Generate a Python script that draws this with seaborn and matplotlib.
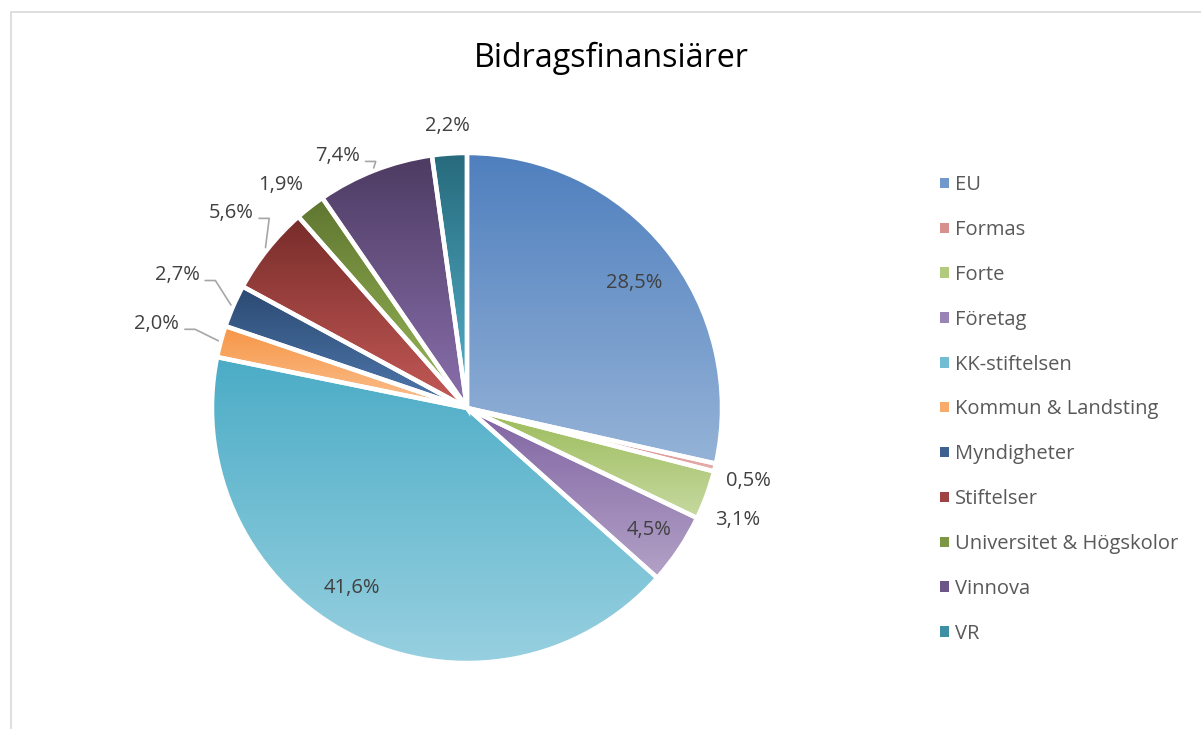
import numpy as np
import seaborn as sns
import matplotlib.pyplot as plt
from matplotlib.colors import LinearSegmentedColormap
from matplotlib.patches import Patch, Rectangle

# data
categories = ['EU', 'Formas', 'Forte', 'Företag', 'KK-stiftelsen', 'Kommun & Landsting',
              'Myndigheter', 'Stiftelser', 'Universitet & Högskolor', 'Vinnova', 'VR']
shares = [28.5, 0.5, 3.1, 4.5, 41.6, 2.0, 2.7, 5.6, 1.9, 7.4, 2.2]
labels = ['28,5%', '0,5%', '3,1%', '4,5%', '41,6%', '2,0%', '2,7%', '5,6%', '1,9%', '7,4%', '2,2%']

# gradient colours (top -> bottom) per slice
top_colors = ['#4F7FBE', '#C9706E', '#9BBB59', '#8064A2', '#4BACC6', '#F79646',
              '#2B4A72', '#772C2A', '#5F7530', '#4D3B62', '#276A7C']
bot_colors = ['#95B3D7', '#E6B0AE', '#C6D9A0', '#B3A2C7', '#97D0E0', '#FAC090',
              '#5079AE', '#C55A57', '#9BBB59', '#8A70AD', '#55B2CC']

# label placement (radius in pie units, angle nudge in degrees) and leader lines
label_r = [0.82, 1.14, 1.15, 0.86, 0.84, 1.26, 1.25, 1.20, 1.14, 1.11, 1.11]
label_da = [-2, -1, -2.5, 0, -6, 0, -1, -1, 2, 6, 0]
leader = [False, False, False, False, False, True, True, True, False, True, False]

sns.set_theme(style='white')
plt.rcParams['font.family'] = ['Open Sans', 'DejaVu Sans']
text_col = '#404040'

fig = plt.figure(figsize=(12.01, 7.29), dpi=100)
W, H = 1201, 729
cx, cy, R = 467, 408, 255
x0, x1, ytop, ybot = 100, 834, 90, 720
ax = fig.add_axes([x0 / W, (H - ybot) / H, (x1 - x0) / W, (ybot - ytop) / H])
ax.axis('off')

wedges, _ = ax.pie(shares, startangle=90, counterclock=False, radius=1.0,
                   colors=bot_colors,
                   wedgeprops=dict(edgecolor='white', linewidth=3.2))

grad = np.linspace(0, 1, 256).reshape(-1, 1)
for w, c0, c1 in zip(wedges, top_colors, bot_colors):
    bb = w.get_path().get_extents(w.get_patch_transform())
    cmap = LinearSegmentedColormap.from_list('g', [c0, c1])
    im = ax.imshow(grad, cmap=cmap, aspect='auto', origin='upper',
                   extent=[bb.x0, bb.x1, bb.y0, bb.y1], zorder=1)
    im.set_clip_path(w)
    w.set_facecolor('none')
    w.set_zorder(3)

ax.set_xlim((x0 - cx) / R, (x1 - cx) / R)
ax.set_ylim((cy - ybot) / R, (cy - ytop) / R)

for w, lab, r, da, ld in zip(wedges, labels, label_r, label_da, leader):
    mid = np.deg2rad((w.theta1 + w.theta2) / 2)
    a = mid + np.deg2rad(da)
    tx, ty = r * np.cos(a), r * np.sin(a)
    ax.text(tx, ty, lab, ha='center', va='center', fontsize=14.5, color=text_col, zorder=5)
    if ld:
        ex, ey = 1.01 * np.cos(mid), 1.01 * np.sin(mid)
        hx = tx + 0.15
        ky = ty - 0.02
        ax.plot([tx + 0.11, hx, ex], [ky, ky, ey], color='#A6A6A6', lw=1.2, zorder=4)

fig.text(611 / W, 1 - 58 / H, 'Bidragsfinansiärer', ha='center', va='center',
         fontsize=23.2, color='black')

handles = [Patch(facecolor=LinearSegmentedColormap.from_list('g', [a, b])(0.5), edgecolor='none')
           for a, b in zip(top_colors, bot_colors)]
fig.legend(handles, categories, loc='upper left', bbox_to_anchor=(922 / W, 1 - 157 / H),
           frameon=False, fontsize=14.5, handlelength=0.42, handleheight=0.42,
           handletextpad=0.32, labelspacing=1.234, labelcolor='#595959')

fig.add_artist(Rectangle((11 / W, -0.1), 1.2, (H - 12) / H + 0.1, transform=fig.transFigure,
                         fill=False, edgecolor='#D9D9D9', linewidth=1.2))

fig.savefig('out.png', dpi=100)
